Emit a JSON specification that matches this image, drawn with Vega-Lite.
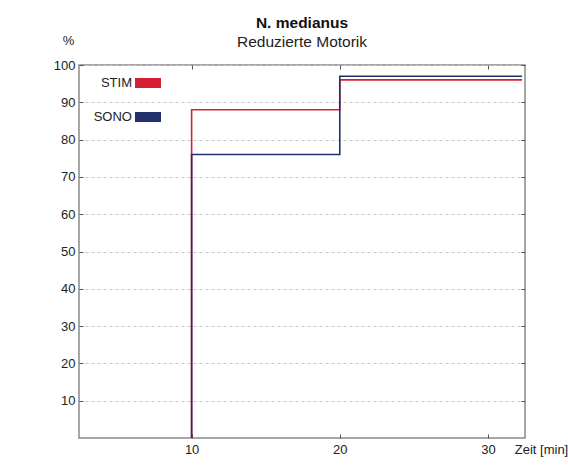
{
  "$schema": "https://vega.github.io/schema/vega-lite/v6.json",
  "width": 446,
  "height": 373,
  "autosize": {"type": "none"},
  "padding": {"left": 79, "top": 65, "right": 43, "bottom": 34},
  "background": "white",
  "title": {
    "text": "N. medianus",
    "subtitle": "Reduzierte Motorik",
    "anchor": "middle",
    "frame": "group",
    "font": "Liberation Sans",
    "fontSize": 15.5,
    "fontWeight": "bold",
    "color": "#111111",
    "subtitleFont": "Liberation Sans",
    "subtitleFontSize": 15.5,
    "subtitleColor": "#222222",
    "subtitlePadding": 3,
    "offset": -16
  },
  "data": {
    "values": [
      {"serie": "STIM", "i": 1, "t": 10, "v": 0},
      {"serie": "STIM", "i": 2, "t": 10, "v": 88},
      {"serie": "STIM", "i": 3, "t": 20, "v": 96},
      {"serie": "STIM", "i": 4, "t": 32.3, "v": 96},
      {"serie": "SONO", "i": 1, "t": 10, "v": 0},
      {"serie": "SONO", "i": 2, "t": 10, "v": 76},
      {"serie": "SONO", "i": 3, "t": 20, "v": 97},
      {"serie": "SONO", "i": 4, "t": 32.3, "v": 97}
    ]
  },
  "layer": [
    {
      "mark": {"type": "line", "interpolate": "step-after", "strokeWidth": 1.6, "clip": true},
      "encoding": {
        "x": {
          "field": "t",
          "type": "quantitative",
          "scale": {"domain": [2.4, 32.5], "nice": false, "zero": false},
          "axis": {
            "orient": "bottom",
            "values": [10, 20, 30],
            "grid": false,
            "domain": false,
            "ticks": true,
            "tickSize": -4,
            "tickColor": "#555555",
            "labelFont": "Liberation Sans",
            "labelFontSize": 13,
            "labelColor": "#222222",
            "labelPadding": 9,
            "title": "Zeit [min]",
            "titleX": 462,
            "titleY": 11,
            "titleAlign": "center",
            "titleBaseline": "middle",
            "titleFont": "Liberation Sans",
            "titleFontSize": 13,
            "titleFontWeight": "normal",
            "titleColor": "#222222"
          }
        },
        "y": {
          "field": "v",
          "type": "quantitative",
          "scale": {"domain": [0, 100], "nice": false},
          "axis": {
            "orient": "left",
            "values": [10, 20, 30, 40, 50, 60, 70, 80, 90, 100],
            "grid": true,
            "gridDash": [3, 3],
            "gridColor": "#c8c8c8",
            "domain": false,
            "ticks": true,
            "tickSize": -4,
            "tickColor": "#555555",
            "labelFont": "Liberation Sans",
            "labelFontSize": 13,
            "labelColor": "#222222",
            "labelPadding": 8,
            "title": "%",
            "titleAngle": 0,
            "titleX": -11,
            "titleY": -25,
            "titleAlign": "center",
            "titleBaseline": "middle",
            "titleFont": "Liberation Sans",
            "titleFontSize": 13,
            "titleFontWeight": "normal",
            "titleColor": "#222222"
          }
        },
        "color": {
          "field": "serie",
          "type": "nominal",
          "scale": {"domain": ["STIM", "SONO"], "range": ["#d42030", "#22306e"]},
          "legend": {
            "orient": "none",
            "legendX": 59.5,
            "legendY": 8.5,
            "title": null,
            "symbolType": "M-3,0H3",
            "symbolSize": 75,
            "symbolStrokeWidth": 10,
            "labelAlign": "right",
            "labelOffset": -25.5,
            "labelFont": "Liberation Sans",
            "labelFontSize": 13,
            "labelColor": "#222222",
            "rowPadding": -7
          }
        },
        "order": {"field": "i", "type": "quantitative"}
      }
    },
    {
      "mark": {"type": "line", "opacity": 0},
      "encoding": {
        "x": {
          "field": "t",
          "type": "quantitative",
          "scale": {"domain": [2.4, 32.5], "nice": false, "zero": false},
          "axis": {
            "orient": "top",
            "values": [10, 20, 30],
            "grid": false,
            "domain": false,
            "labels": false,
            "ticks": true,
            "tickSize": -4,
            "tickColor": "#555555",
            "title": null
          }
        },
        "y": {
          "field": "v",
          "type": "quantitative",
          "scale": {"domain": [0, 100], "nice": false},
          "axis": {
            "orient": "right",
            "values": [10, 20, 30, 40, 50, 60, 70, 80, 90, 100],
            "grid": false,
            "domain": false,
            "labels": false,
            "ticks": true,
            "tickSize": -4,
            "tickColor": "#555555",
            "title": null
          }
        },
        "detail": {"field": "serie", "type": "nominal"},
        "order": {"field": "i", "type": "quantitative"}
      }
    }
  ],
  "resolve": {"scale": {"x": "independent", "y": "independent"}},
  "config": {
    "view": {"stroke": "#8a8a8a", "strokeWidth": 1.5}
  }
}
